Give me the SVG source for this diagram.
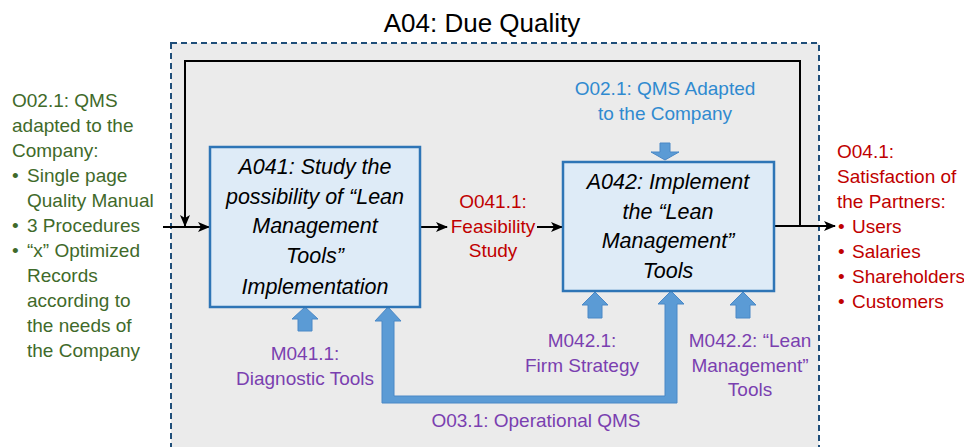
<svg xmlns="http://www.w3.org/2000/svg" width="964" height="447" viewBox="0 0 964 447">
<defs>
<style>
text{font-family:"Liberation Sans",Arial,sans-serif;}
.t{font-size:19px;}
.box{fill:#deebf7;stroke:#2e75b6;stroke-width:2.5;}
.bt{font-size:21.5px;font-style:italic;fill:#000;text-anchor:middle;}
.g{fill:#3f6a2a;}
.r{fill:#c00000;}
.b{fill:#2f8ad0;}
.p{fill:#7a3fb0;}
.c{text-anchor:middle;}
.ln{fill:none;stroke:#000;stroke-width:2;}
.blk{fill:#5b9bd5;stroke:#4a88c6;stroke-width:1;}
</style>
<marker id="ah" viewBox="0 0 12 10" refX="11" refY="5" markerWidth="12" markerHeight="10" markerUnits="userSpaceOnUse" orient="auto">
<path d="M0,0 L12,5 L0,10 L3,5 z" fill="#000"/>
</marker>
</defs>
<rect width="964" height="447" fill="#fff"/>
<text x="482" y="32" font-size="26" text-anchor="middle" fill="#000">A04: Due Quality</text>
<rect id="frame" x="171" y="43" width="648" height="420" fill="#ebebeb" stroke="#1f4e79" stroke-width="2" stroke-dasharray="6 4"/>

<g id="connectors">
<path class="ln" d="M774,226 H835" marker-end="url(#ah)"/>
<path class="ln" d="M800,226 V61 H185 V226" marker-end="url(#ah)"/>
<path class="ln" d="M163,227 H209" marker-end="url(#ah)"/>
<path class="ln" d="M421,227 H447" marker-end="url(#ah)"/>
<path class="ln" d="M537,227 H562" marker-end="url(#ah)"/>
<polygon class="blk" points="660,143 670,143 670,152 679,152 665,160 651,152 660,152"/>
<polygon class="blk" points="305,307 318,319 312,319 312,331 298,331 298,319 292,319"/>
<polygon class="blk" points="595,292 608,305 602,305 602,318 588,318 588,305 582,305"/>
<polygon class="blk" points="743,292 756,305 750,305 750,318 736,318 736,305 730,305"/>
<polygon class="blk" points="388,307 401,321 394,321 394,396 665,396 665,304 658,304 671,291 684,304 677,304 677,403 382,403 382,321 375,321"/>
</g>

<g id="A041">
<rect class="box" x="210" y="147" width="210" height="160"/>
<text class="bt" x="315" y="174">A041: Study the</text>
<text class="bt" x="315" y="204">possibility of “Lean</text>
<text class="bt" x="315" y="233">Management</text>
<text class="bt" x="315" y="263">Tools”</text>
<text class="bt" x="315" y="294">Implementation</text>
</g>

<g id="A042">
<rect class="box" x="563" y="162" width="211" height="129"/>
<text class="bt" x="668" y="189">A042: Implement</text>
<text class="bt" x="668" y="219">the “Lean</text>
<text class="bt" x="668" y="248">Management”</text>
<text class="bt" x="668" y="278">Tools</text>
</g>

<g id="O02-1-input">
<text class="t g" x="12" y="107">O02.1: QMS</text>
<text class="t g" x="12" y="132">adapted to the</text>
<text class="t g" x="12" y="157">Company:</text>
<text class="t g" x="12" y="182">•</text><text class="t g" x="27" y="182">Single page</text>
<text class="t g" x="27" y="207">Quality Manual</text>
<text class="t g" x="12" y="232">•</text><text class="t g" x="27" y="232">3 Procedures</text>
<text class="t g" x="12" y="257">•</text><text class="t g" x="27" y="257">“x” Optimized</text>
<text class="t g" x="27" y="282">Records</text>
<text class="t g" x="27" y="307">according to</text>
<text class="t g" x="27" y="332">the needs of</text>
<text class="t g" x="27" y="357">the Company</text>
</g>

<g id="O04-1-output">
<text class="t r" x="837" y="158">O04.1:</text>
<text class="t r" x="837" y="183">Satisfaction of</text>
<text class="t r" x="837" y="208">the Partners:</text>
<text class="t r" x="838" y="233">•</text><text class="t r" x="852" y="233">Users</text>
<text class="t r" x="838" y="258">•</text><text class="t r" x="852" y="258">Salaries</text>
<text class="t r" x="838" y="283">•</text><text class="t r" x="852" y="283">Shareholders</text>
<text class="t r" x="838" y="308">•</text><text class="t r" x="852" y="308">Customers</text>
</g>

<g id="O041-1">
<text class="t r c" x="493" y="208">O041.1:</text>
<text class="t r c" x="493" y="233">Feasibility</text>
<text class="t r c" x="493" y="257">Study</text>
</g>

<g id="O02-1-control">
<text class="t b c" x="665" y="95">O02.1: QMS Adapted</text>
<text class="t b c" x="665" y="120">to the Company</text>
</g>

<g id="M041-1">
<text class="t p c" x="305" y="360">M041.1:</text>
<text class="t p c" x="305" y="385">Diagnostic Tools</text>
</g>

<g id="M042-1">
<text class="t p c" x="582" y="347">M042.1:</text>
<text class="t p c" x="582" y="372">Firm Strategy</text>
</g>

<g id="M042-2">
<text class="t p c" x="750" y="347">M042.2: “Lean</text>
<text class="t p c" x="750" y="372">Management”</text>
<text class="t p c" x="750" y="396">Tools</text>
</g>

<g id="O03-1">
<text class="t p c" x="536" y="427">O03.1: Operational QMS</text>
</g>
</svg>
